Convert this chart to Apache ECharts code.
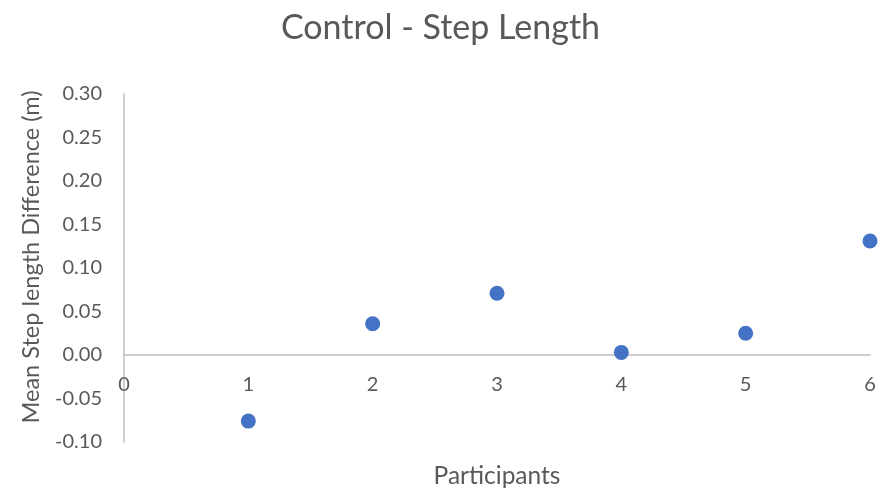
<!DOCTYPE html>
<html>
<head>
<meta charset="utf-8">
<script src="https://cdn.jsdelivr.net/npm/echarts@6/dist/echarts.min.js"></script>
<style>html,body{margin:0;padding:0;background:#fff}#c{width:881px;height:494px}</style>
</head>
<body>
<div id="c"></div>
<script>
const participants = [1, 2, 3, 4, 5, 6];
const meanStepDiff = [-0.076, 0.036, 0.071, 0.003, 0.025, 0.131];
const xTicks = [0, 1, 2, 3, 4, 5, 6];
const yTicks = [-0.10, -0.05, 0.00, 0.05, 0.10, 0.15, 0.20, 0.25, 0.30];

const chart = echarts.init(document.getElementById('c'), null, {renderer: 'canvas'});
const font = 'Lato';
const txt = '#595959';
chart.setOption({
  animation: false,
  backgroundColor: '#fff',
  title: {
    text: 'Control - Step Length',
    left: 'center', top: 6,
    textStyle: {fontFamily: font, fontSize: 34, fontWeight: 'normal', color: txt}
  },
  grid: {left: 124, right: 11, top: 94, bottom: 52, containLabel: false, outerBoundsMode: 'none'},
  xAxis: {
    type: 'value',
    min: xTicks[0], max: xTicks[xTicks.length - 1], interval: 1,
    name: 'Participants', nameLocation: 'middle', nameGap: 22,
    nameTextStyle: {fontFamily: font, fontSize: 24.5, color: txt},
    axisLine: {onZero: true, lineStyle: {color: '#bfbfbf', width: 1.5}},
    axisTick: {show: false},
    axisLabel: {fontFamily: font, fontSize: 20, color: txt, margin: -67},
    splitLine: {show: false}
  },
  yAxis: {
    type: 'value',
    min: yTicks[0], max: yTicks[yTicks.length - 1], interval: 0.05,
    name: 'Mean Step length Difference (m)', nameLocation: 'middle', nameGap: 81,
    nameTextStyle: {fontFamily: font, fontSize: 23.5, color: txt, padding: [0, 0, 0, 22]},
    axisLine: {show: true, onZero: false, lineStyle: {color: '#bfbfbf', width: 1.5}},
    axisTick: {show: false},
    axisLabel: {fontFamily: font, fontSize: 20, color: txt, margin: 22, formatter: v => v.toFixed(2)},
    splitLine: {show: false}
  },
  series: [{
    type: 'scatter',
    data: participants.map((p, i) => [p, meanStepDiff[i]]),
    symbol: 'circle', symbolSize: 15,
    itemStyle: {color: '#4472c4', opacity: 1}
  }]
});
</script>
</body>
</html>
